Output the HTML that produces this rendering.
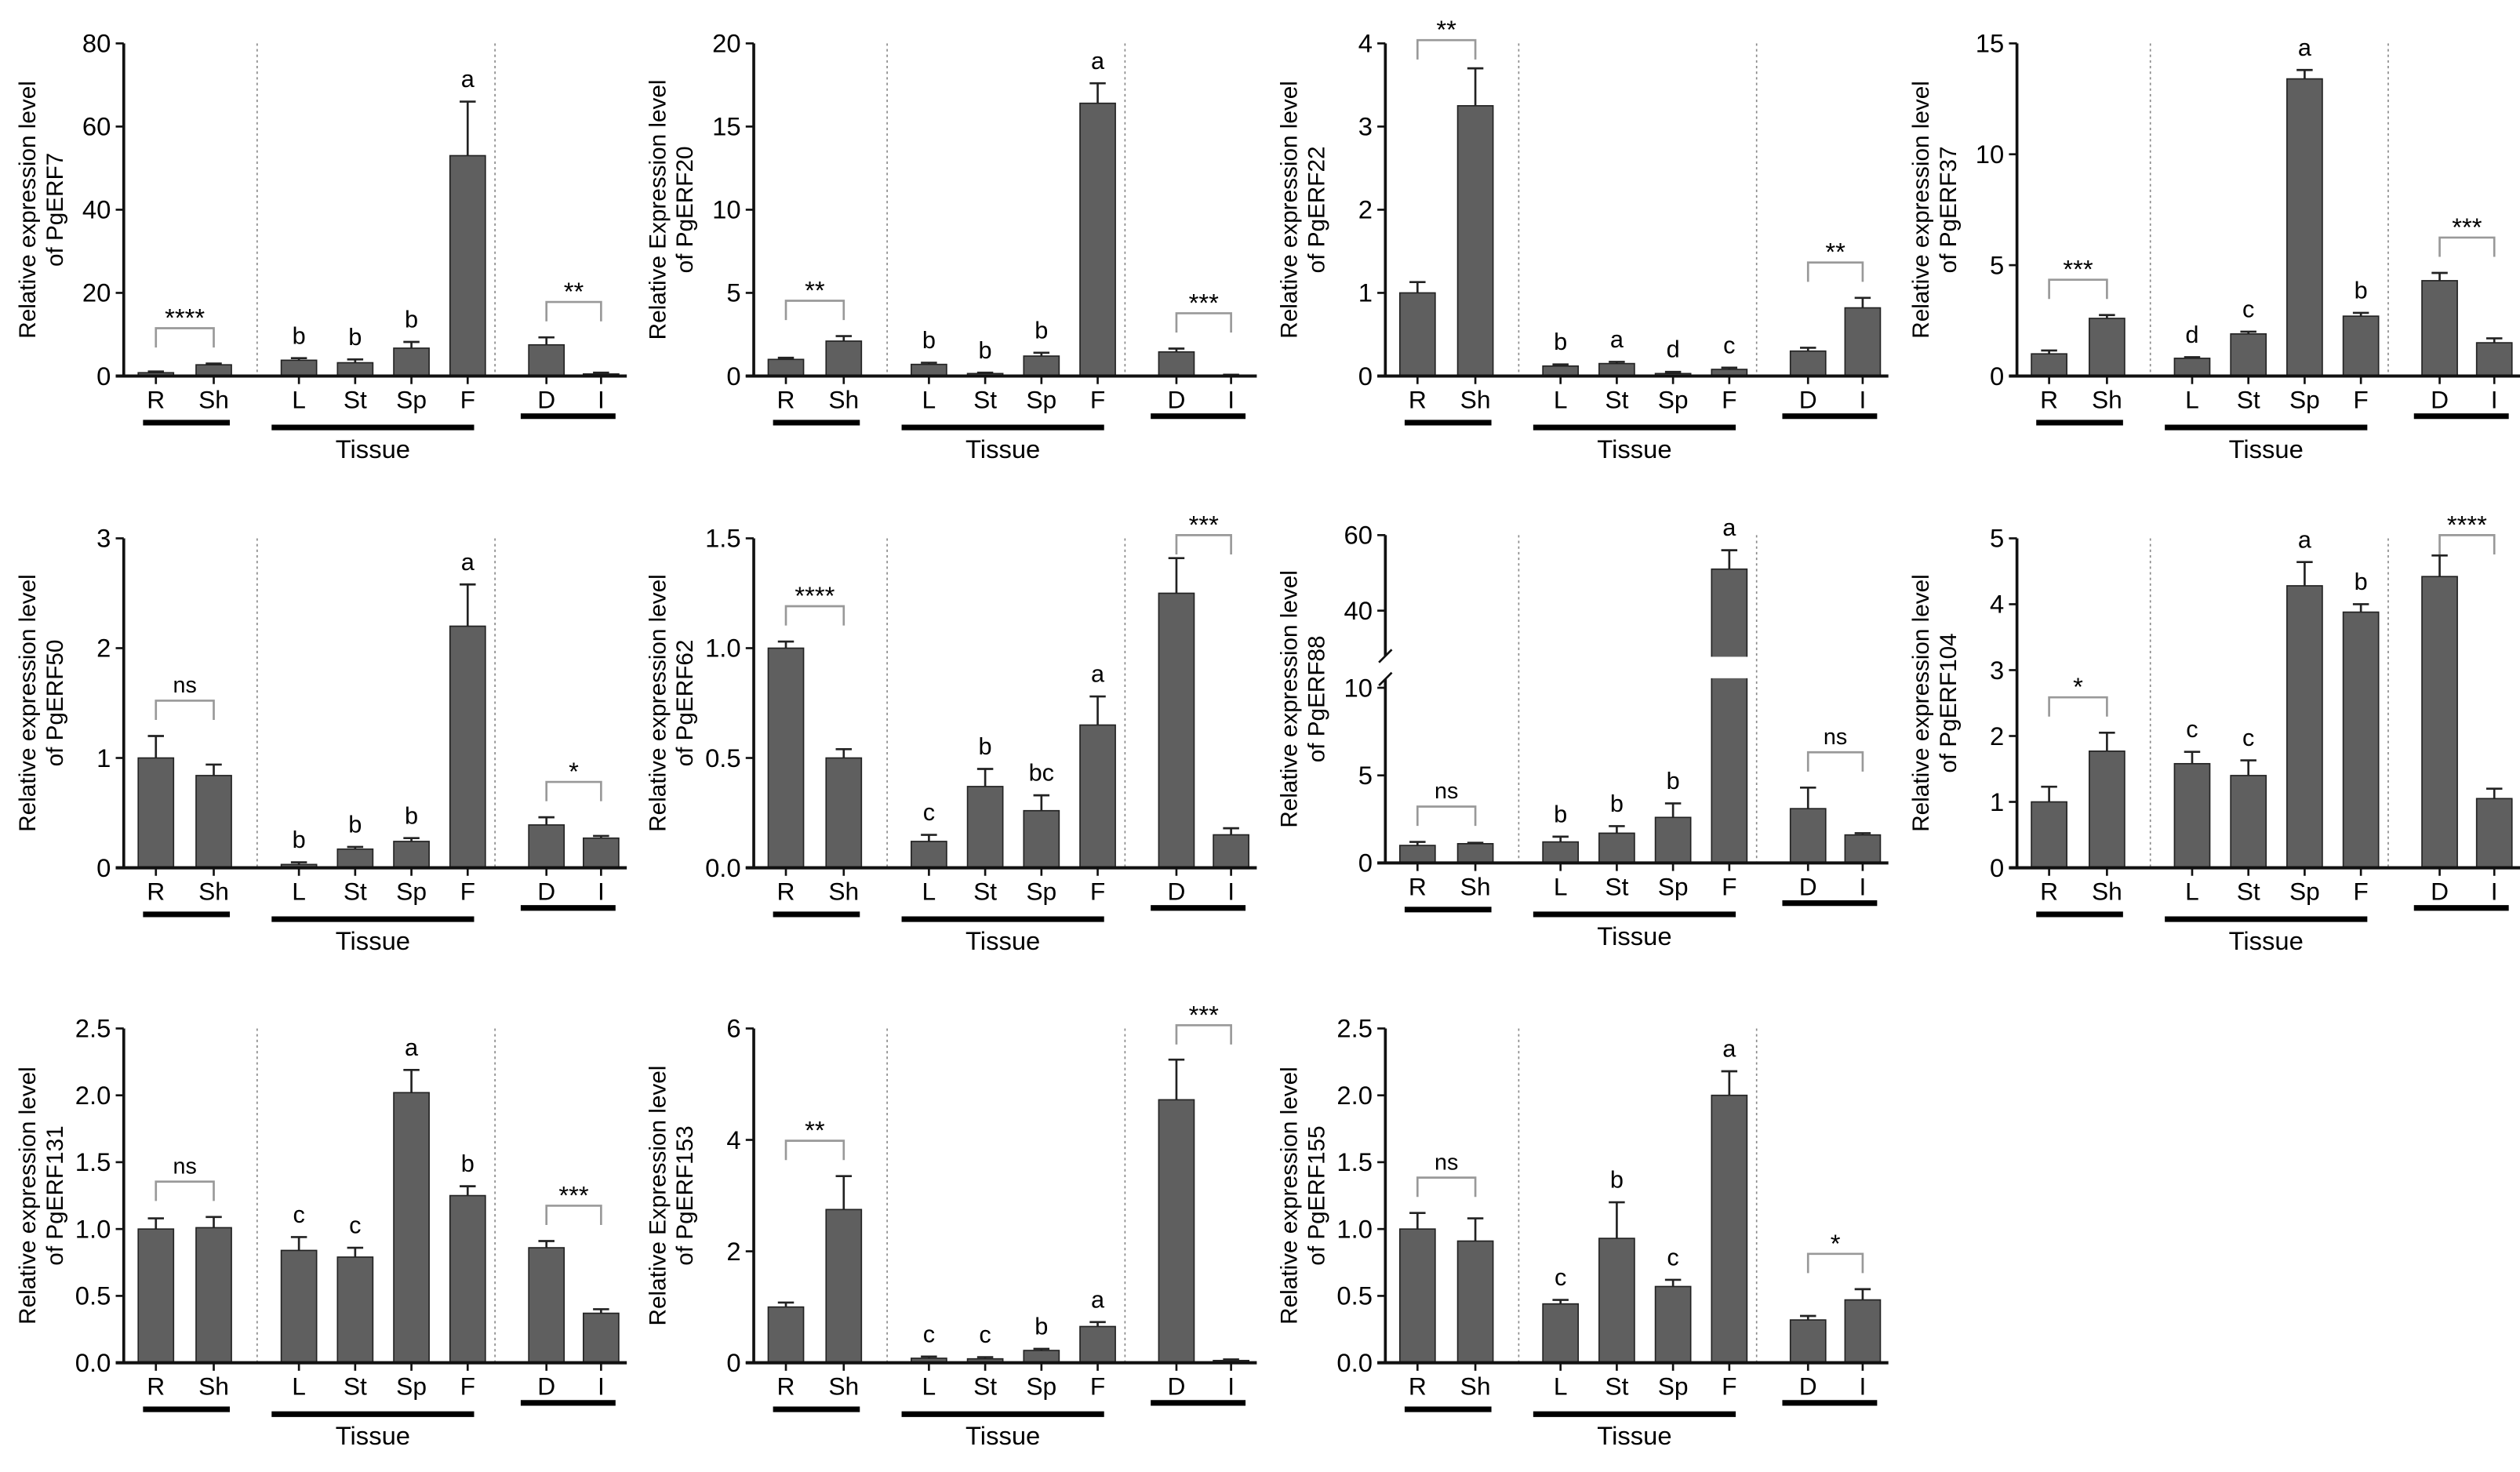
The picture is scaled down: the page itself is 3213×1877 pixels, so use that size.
<!DOCTYPE html>
<html><head><meta charset="utf-8"><style>
html,body{margin:0;padding:0;background:#fff}
svg{display:block}
text{font-family:"Liberation Sans",Arial,sans-serif;fill:#000}
</style></head><body>
<svg id="fig" width="3213" height="1877" viewBox="0 0 1568 916" preserveAspectRatio="none" xmlns="http://www.w3.org/2000/svg"></svg>
<script>
const categories=["R","Sh","L","St","Sp","F","D","I"];
const genes=["PgERF7","PgERF20","PgERF22","PgERF37","PgERF50","PgERF62","PgERF88","PgERF104","PgERF131","PgERF153","PgERF155"];
const vals7=[0.8,2.7,3.8,3.2,6.7,53,7.5,0.5];
const err7=[0.3,0.3,0.5,0.8,1.5,13,1.8,0.3];
const vals20=[1.0,2.1,0.7,0.15,1.2,16.4,1.45,0.05];
const err20=[0.1,0.3,0.1,0.05,0.2,1.2,0.2,0.03];
const vals22=[1.0,3.25,0.12,0.15,0.03,0.08,0.3,0.82];
const err22=[0.13,0.45,0.02,0.02,0.02,0.02,0.04,0.12];
const vals37=[1.0,2.6,0.8,1.9,13.4,2.7,4.3,1.5];
const err37=[0.15,0.15,0.05,0.1,0.4,0.15,0.35,0.2];
const vals50=[1.0,0.84,0.03,0.17,0.24,2.2,0.39,0.27];
const err50=[0.2,0.1,0.02,0.02,0.03,0.38,0.07,0.02];
const vals62=[1.0,0.5,0.12,0.37,0.26,0.65,1.25,0.15];
const err62=[0.03,0.04,0.03,0.08,0.07,0.13,0.16,0.03];
const vals88=[1.0,1.1,1.2,1.7,2.6,51,3.1,1.6];
const err88=[0.2,0.05,0.3,0.4,0.8,5,1.2,0.1];
const vals104=[1.0,1.77,1.58,1.4,4.28,3.88,4.42,1.05];
const err104=[0.23,0.28,0.18,0.23,0.36,0.12,0.32,0.15];
const vals131=[1.0,1.01,0.84,0.79,2.02,1.25,0.86,0.37];
const err131=[0.08,0.08,0.1,0.07,0.17,0.07,0.05,0.03];
const vals153=[1.0,2.75,0.08,0.07,0.22,0.65,4.72,0.04];
const err153=[0.08,0.6,0.03,0.03,0.03,0.08,0.72,0.02];
const vals155=[1.0,0.91,0.44,0.93,0.57,2.0,0.32,0.47];
const err155=[0.12,0.17,0.03,0.27,0.05,0.18,0.03,0.08];
const letters7=["b","b","b","a"],letters20=["b","b","b","a"],letters22=["b","a","d","c"],letters37=["d","c","a","b"];
const letters50=["b","b","b","a"],letters62=["c","b","bc","a"],letters88=["b","b","b","a"],letters104=["c","c","a","b"];
const letters131=["c","c","a","b"],letters153=["c","c","b","a"],letters155=["c","b","c","a"];
const sigRSh=["****","**","**","***","ns","****","ns","*","ns","**","ns"];
const sigDI=["**","***","**","***","*","***","ns","****","***","***","*"];
const ticks7=[0,20,40,60,80],ticks20=[0,5,10,15,20],ticks22=[0,1,2,3,4],ticks37=[0,5,10,15];
const ticks50=[0,1,2,3],ticks62=[0,0.5,1.0,1.5],ticks104=[0,1,2,3,4,5],ticks131=[0,0.5,1.0,1.5,2.0,2.5];
const ticks153=[0,2,4,6],ticks155=[0,0.5,1.0,1.5,2.0,2.5];
const ticks88low=[0,5,10],ticks88high=[40,60];

const NS="http://www.w3.org/2000/svg";
const svg=document.getElementById("fig");
function el(tag,attrs,parent,txt){const e=document.createElementNS(NS,tag);for(const k in attrs)e.setAttribute(k,attrs[k]);if(txt!==undefined)e.textContent=txt;(parent||svg).appendChild(e);return e;}
const offs=[20,56,109,144,179,214,263,297];
const BW=22;
function panel(p){
 const g=el("g",{});
 
 
 const x0=p.x0,b=p.base,t=p.top;
 let yf;
 if(p.broken){
  yf=v=>v<=10.5? b-(v/10)*(b-p.y10) : 380-(v-40)*2.35;
 }else{
  yf=v=>b-(v/p.max)*(b-t);
 }
 [83,231].forEach(s=>{const l=el("line",{x1:x0+s,x2:x0+s,y1:t,y2:b,stroke:"#888","stroke-width":0.8,"stroke-dasharray":"1.5,2"},g);});
 p.vals.forEach((v,i)=>{
  const cx=x0+offs[i],y=yf(v),ye=yf(v+p.err[i]);
  const r=el("rect",{x:cx-BW/2,y:y,width:BW,height:b-y,fill:"#5f5f5f",stroke:"#222","stroke-width":0.8},g);
  
  
  const e1=el("path",{d:`M${cx},${y}V${ye}M${cx-5},${ye}H${cx+5}`,stroke:"#222","stroke-width":1.3,fill:"none"},g);
  
  
  if(i>=2&&i<=5){const lt=el("text",{x:cx,y:ye-9,"text-anchor":"middle","font-size":15},g,p.letters[i-2]);}
  const tk=el("line",{x1:cx,x2:cx,y1:b,y2:b+5,stroke:"#111","stroke-width":1.3},g);
  
  const cl=el("text",{x:cx,y:b+20,"text-anchor":"middle","font-size":15.5},g,categories[i]);
  
 });
 if(p.broken){
  const fx=x0+offs[5];
  el("rect",{x:fx-BW/2-1,y:yf(28)+0.5,width:BW+2,height:yf(10.5)-yf(28)-1,fill:"#fff"},g);
 }
 [[0,1,p.sig1],[6,7,p.sig2]].forEach(([a,c,s])=>{
  const xa=x0+offs[a],xc=x0+offs[c];
  const topY=Math.min(yf(p.vals[a]+p.err[a]),yf(p.vals[c]+p.err[c]));
  const by=Math.max(topY-22,t-2);
  const br=el("path",{d:`M${xa},${by+12}V${by}H${xc}V${by+12}`,stroke:"#999","stroke-width":1.3,fill:"none"},g);
  
  const st=el("text",{x:(xa+xc)/2,y:s==="ns"?by-5:by-1,"text-anchor":"middle","font-size":s==="ns"?14:16},g,s);
  
 });
 if(p.broken){
  el("path",{d:`M${x0},${b}V${yf(10.5)}M${x0},${yf(28)}V${t}`,stroke:"#111","stroke-width":1.8,fill:"none"},g);
  el("path",{d:`M${x0-4},${yf(10.5)+4}L${x0+4},${yf(10.5)-4}M${x0-4},${yf(28)+4}L${x0+4},${yf(28)-4}`,stroke:"#111","stroke-width":1.3},g);
 }else{
  const ya=el("line",{x1:x0,x2:x0,y1:t,y2:b,stroke:"#111","stroke-width":1.8},g);
  
 }
 const xa=el("line",{x1:x0-5,x2:x0+313,y1:b,y2:b,stroke:"#111","stroke-width":2},g);
 
 p.ticks.forEach(v=>{
  const y=yf(v);
  el("line",{x1:x0-5,x2:x0,y1:y,y2:y,stroke:"#111","stroke-width":1.3},g);
  const lb=el("text",{x:x0-8,y:y+5.5,"text-anchor":"end","font-size":16},g,p.fmt?v.toFixed(1):String(v));
  
 });
 const cy=(t+b)/2;
 const yt=el("text",{transform:`translate(${x0-55},${cy}) rotate(-90)`,"text-anchor":"middle","font-size":14.5},g);
 
 el("tspan",{x:0,dy:0},yt,p.expr?"Relative Expression level":"Relative expression level");
 el("tspan",{x:0,dy:17},yt,"of "+p.gene);
 [[12,66,29],[92,218,32],[247,306,25]].forEach(([a,c,d])=>{
  const gb=el("line",{x1:x0+a,x2:x0+c,y1:b+d,y2:b+d,stroke:"#000","stroke-width":3.5},g);
  
 });
 const ts=el("text",{x:x0+155,y:b+51,"text-anchor":"middle","font-size":16},g,"Tissue");
 
}
const rowsT=[27,335,640],rowsB=[234,540,848];
const cols=[77,469,862,1255];
const specs=[
 {vals:vals7,err:err7,letters:letters7,ticks:ticks7,max:80},
 {vals:vals20,err:err20,letters:letters20,ticks:ticks20,max:20,expr:true},
 {vals:vals22,err:err22,letters:letters22,ticks:ticks22,max:4},
 {vals:vals37,err:err37,letters:letters37,ticks:ticks37,max:15},
 {vals:vals50,err:err50,letters:letters50,ticks:ticks50,max:3},
 {vals:vals62,err:err62,letters:letters62,ticks:ticks62,max:1.5,fmt:true},
 {vals:vals88,err:err88,letters:letters88,ticks:ticks88low.concat(ticks88high),broken:true},
 {vals:vals104,err:err104,letters:letters104,ticks:ticks104,max:5},
 {vals:vals131,err:err131,letters:letters131,ticks:ticks131,max:2.5,fmt:true},
 {vals:vals153,err:err153,letters:letters153,ticks:ticks153,max:6,expr:true},
 {vals:vals155,err:err155,letters:letters155,ticks:ticks155,max:2.5,fmt:true}
];
specs.forEach((s,i)=>{
 const r=Math.floor(i/4),c=i%4;
 s.gene=genes[i];s.x0=cols[c];s.top=rowsT[r];s.base=rowsB[r];s.sig1=sigRSh[i];s.sig2=sigDI[i];
 if(s.broken){s.top=333;s.base=537;s.y10=428;}
 panel(s);
});
</script>
</body></html>
